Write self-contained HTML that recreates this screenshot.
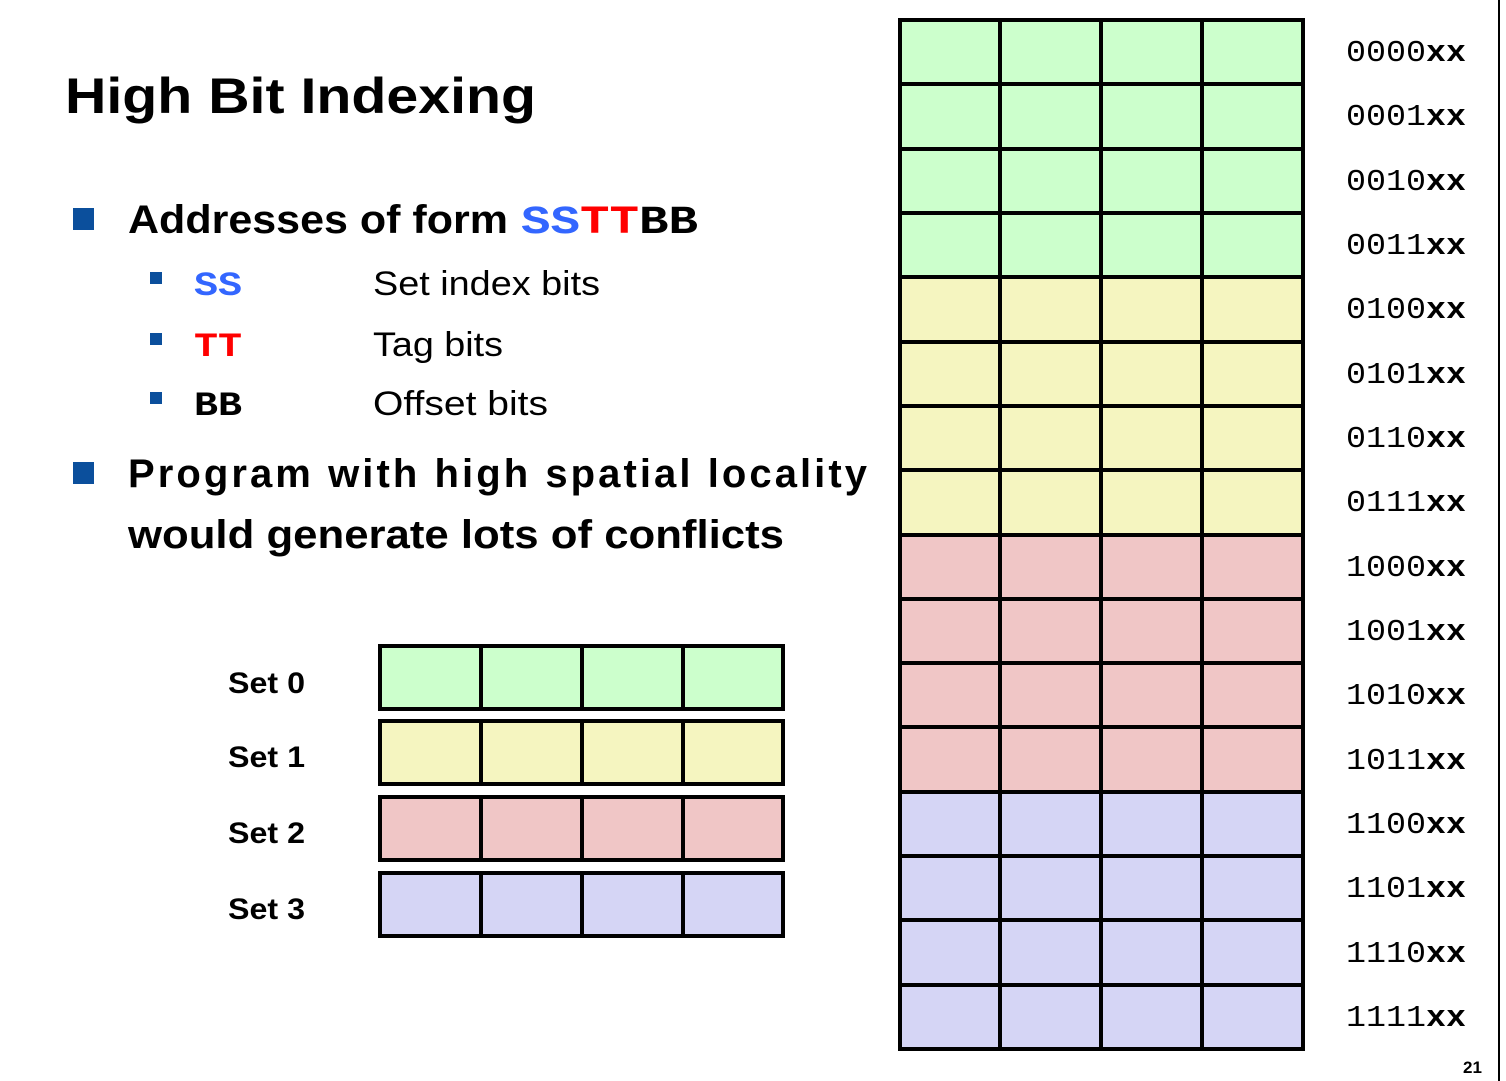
<!DOCTYPE html>
<html><head><meta charset="utf-8"><style>
html,body{margin:0;padding:0;background:#fff;}
svg{display:block;}
.t{font-family:"Liberation Sans",sans-serif;font-weight:bold;fill:#000;}
.m{font-family:"Liberation Mono",monospace;}
</style></head><body>
<svg width="1506" height="1081" viewBox="0 0 1506 1081" xmlns="http://www.w3.org/2000/svg">
<rect width="1506" height="1081" fill="#fff"/>
<line x1="1499" y1="0" x2="1499" y2="1081" stroke="#000" stroke-width="2"/>
<text class="t" x="65" y="113" font-size="50" textLength="471" lengthAdjust="spacingAndGlyphs">High Bit Indexing</text>
<rect x="73" y="208" width="21" height="22" fill="#0b4f9c"/>
<text class="t" x="128" y="233" font-size="40" textLength="380" lengthAdjust="spacingAndGlyphs">Addresses of form</text>
<text class="m" x="521" y="233" font-size="40" font-weight="bold" textLength="177" lengthAdjust="spacingAndGlyphs"><tspan fill="#3366ff">SS</tspan><tspan fill="#ff0000">TT</tspan><tspan fill="#000">BB</tspan></text>
<rect x="150" y="272" width="12" height="12" fill="#0b4f9c"/>
<rect x="150" y="333" width="12" height="12" fill="#0b4f9c"/>
<rect x="150" y="392" width="12" height="12" fill="#0b4f9c"/>
<text class="m" x="194" y="295" font-size="34" font-weight="bold" fill="#3366ff" textLength="48" lengthAdjust="spacingAndGlyphs">SS</text>
<text class="m" x="194" y="356" font-size="34" font-weight="bold" fill="#ff0000" textLength="48" lengthAdjust="spacingAndGlyphs">TT</text>
<text class="m" x="194" y="415" font-size="34" font-weight="bold" fill="#000" textLength="48" lengthAdjust="spacingAndGlyphs">BB</text>
<g font-family="Liberation Sans,sans-serif" font-size="34" fill="#000">
<text x="373" y="295" textLength="227" lengthAdjust="spacingAndGlyphs">Set index bits</text>
<text x="373" y="356" textLength="130" lengthAdjust="spacingAndGlyphs">Tag bits</text>
<text x="373" y="415" textLength="175" lengthAdjust="spacingAndGlyphs">Offset bits</text>
</g>
<rect x="73" y="462" width="21" height="22" fill="#0b4f9c"/>
<text class="t" x="128" y="487" font-size="40" textLength="739" lengthAdjust="spacing">Program  with  high  spatial  locality</text>
<text class="t" x="128" y="548" font-size="40" textLength="656" lengthAdjust="spacingAndGlyphs">would generate lots of conflicts</text>
<g class="t" font-size="30">
<text x="228" y="693" textLength="77" lengthAdjust="spacingAndGlyphs">Set 0</text>
<text x="228" y="767" textLength="77" lengthAdjust="spacingAndGlyphs">Set 1</text>
<text x="228" y="843" textLength="77" lengthAdjust="spacingAndGlyphs">Set 2</text>
<text x="228" y="919" textLength="77" lengthAdjust="spacingAndGlyphs">Set 3</text>
</g>
<g stroke="#000" stroke-width="4">
<rect x="380" y="646" width="403" height="63" fill="#ccffcc"/>
<rect x="380" y="721" width="403" height="63" fill="#f5f5c0"/>
<rect x="380" y="797" width="403" height="63" fill="#f0c6c6"/>
<rect x="380" y="873" width="403" height="63" fill="#d5d5f5"/>
<line x1="481" y1="646" x2="481" y2="709"/><line x1="582" y1="646" x2="582" y2="709"/><line x1="683" y1="646" x2="683" y2="709"/>
<line x1="481" y1="721" x2="481" y2="784"/><line x1="582" y1="721" x2="582" y2="784"/><line x1="683" y1="721" x2="683" y2="784"/>
<line x1="481" y1="797" x2="481" y2="860"/><line x1="582" y1="797" x2="582" y2="860"/><line x1="683" y1="797" x2="683" y2="860"/>
<line x1="481" y1="873" x2="481" y2="936"/><line x1="582" y1="873" x2="582" y2="936"/><line x1="683" y1="873" x2="683" y2="936"/>
</g>
<g stroke="none">
<rect x="900" y="20" width="403" height="257" fill="#ccffcc"/>
<rect x="900" y="277" width="403" height="258" fill="#f5f5c0"/>
<rect x="900" y="535" width="403" height="257" fill="#f0c6c6"/>
<rect x="900" y="792" width="403" height="257" fill="#d5d5f5"/>
</g>
<g stroke="#000" stroke-width="4" fill="none">
<rect x="900" y="20" width="403" height="1029"/>
<line x1="1000" y1="20" x2="1000" y2="1049"/><line x1="1101" y1="20" x2="1101" y2="1049"/><line x1="1202" y1="20" x2="1202" y2="1049"/>
<line x1="900" y1="84" x2="1303" y2="84"/><line x1="900" y1="149" x2="1303" y2="149"/><line x1="900" y1="213" x2="1303" y2="213"/>
<line x1="900" y1="277" x2="1303" y2="277"/><line x1="900" y1="342" x2="1303" y2="342"/><line x1="900" y1="406" x2="1303" y2="406"/>
<line x1="900" y1="470" x2="1303" y2="470"/><line x1="900" y1="535" x2="1303" y2="535"/><line x1="900" y1="599" x2="1303" y2="599"/>
<line x1="900" y1="663" x2="1303" y2="663"/><line x1="900" y1="727" x2="1303" y2="727"/><line x1="900" y1="792" x2="1303" y2="792"/>
<line x1="900" y1="856" x2="1303" y2="856"/><line x1="900" y1="920" x2="1303" y2="920"/><line x1="900" y1="985" x2="1303" y2="985"/>
</g>
<g class="m" font-size="31" fill="#000">
<text x="1346" y="61" textLength="120" lengthAdjust="spacingAndGlyphs">0000<tspan font-weight="bold">xx</tspan></text>
<text x="1346" y="125" textLength="120" lengthAdjust="spacingAndGlyphs">0001<tspan font-weight="bold">xx</tspan></text>
<text x="1346" y="190" textLength="120" lengthAdjust="spacingAndGlyphs">0010<tspan font-weight="bold">xx</tspan></text>
<text x="1346" y="254" textLength="120" lengthAdjust="spacingAndGlyphs">0011<tspan font-weight="bold">xx</tspan></text>
<text x="1346" y="318" textLength="120" lengthAdjust="spacingAndGlyphs">0100<tspan font-weight="bold">xx</tspan></text>
<text x="1346" y="383" textLength="120" lengthAdjust="spacingAndGlyphs">0101<tspan font-weight="bold">xx</tspan></text>
<text x="1346" y="447" textLength="120" lengthAdjust="spacingAndGlyphs">0110<tspan font-weight="bold">xx</tspan></text>
<text x="1346" y="511" textLength="120" lengthAdjust="spacingAndGlyphs">0111<tspan font-weight="bold">xx</tspan></text>
<text x="1346" y="576" textLength="120" lengthAdjust="spacingAndGlyphs">1000<tspan font-weight="bold">xx</tspan></text>
<text x="1346" y="640" textLength="120" lengthAdjust="spacingAndGlyphs">1001<tspan font-weight="bold">xx</tspan></text>
<text x="1346" y="704" textLength="120" lengthAdjust="spacingAndGlyphs">1010<tspan font-weight="bold">xx</tspan></text>
<text x="1346" y="769" textLength="120" lengthAdjust="spacingAndGlyphs">1011<tspan font-weight="bold">xx</tspan></text>
<text x="1346" y="833" textLength="120" lengthAdjust="spacingAndGlyphs">1100<tspan font-weight="bold">xx</tspan></text>
<text x="1346" y="897" textLength="120" lengthAdjust="spacingAndGlyphs">1101<tspan font-weight="bold">xx</tspan></text>
<text x="1346" y="962" textLength="120" lengthAdjust="spacingAndGlyphs">1110<tspan font-weight="bold">xx</tspan></text>
<text x="1346" y="1026" textLength="120" lengthAdjust="spacingAndGlyphs">1111<tspan font-weight="bold">xx</tspan></text>
</g>
<text class="t" x="1463" y="1073" font-size="17">21</text>
</svg>
</body></html>
